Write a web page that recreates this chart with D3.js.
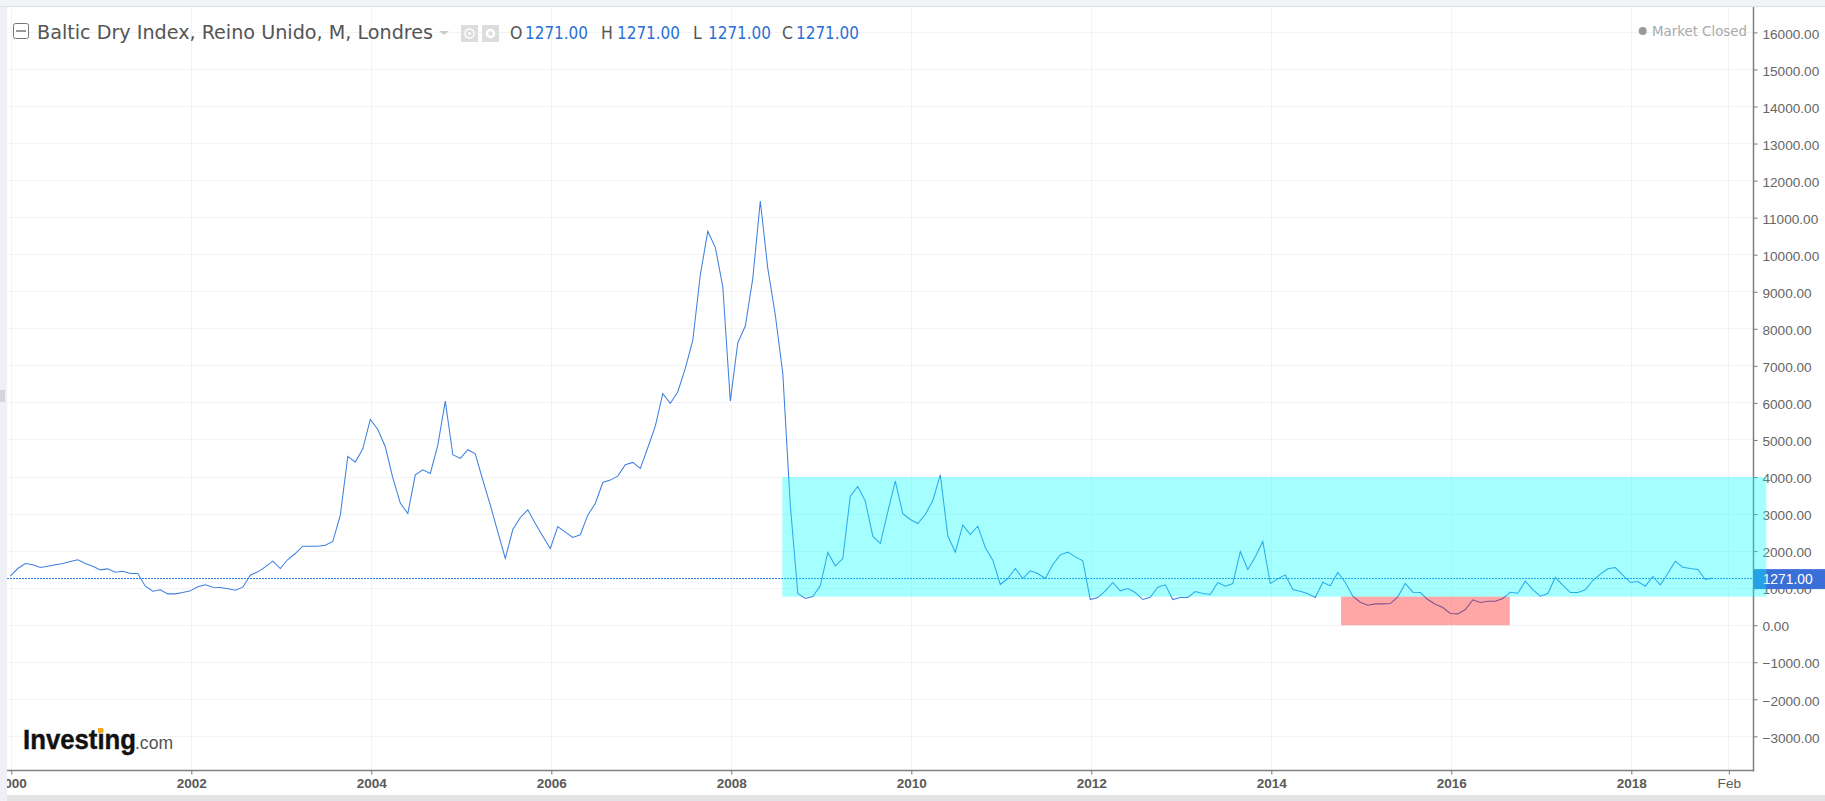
<!DOCTYPE html>
<html><head><meta charset="utf-8">
<script src="https://cdn.jsdelivr.net/npm/d3@7/dist/d3.min.js"></script>
<style>html,body{margin:0;padding:0;background:#fff;overflow:hidden}svg{display:block}text{font-family:"Liberation Sans",Arial,sans-serif}.cond{font-family:"DejaVu Sans",sans-serif;font-stretch:condensed}</style>
</head><body><svg id="c" width="1825" height="801"></svg>
<script>
// Monthly closes from Jan 2000
const startYear = 2000;
const closes = [
1323,1530,1665,1630,1557,1593,1630,1665,1719,1764,1665,1593,
1494,1520,1431,1458,1395,1395,1053,918,954,846,846,882,
927,1035,1089,1026,1017,981,945,1026,1350,1440,1575,1728,
1530,1773,1935,2133,2133,2133,2160,2259,2970,4555,4402,4762,
5554,5284,4816,3979,3295,3015,4060,4195,4096,4861,6049,4600,
4501,4735,4627,3916,3241,2521,1800,2583,2907,3115,2745,2403,
2070,2664,2511,2367,2440,2970,3285,3852,3916,4024,4330,4393,
4231,4789,5374,6247,5986,6302,6931,7696,9452,10631,10199,9136,
6049,7624,8074,9362,11450,9632,8372,6797,3241,856,720,774,
1062,1962,1602,1800,3484,3745,3349,2403,2205,3060,3889,3007,
2853,2745,2988,3367,4060,2413,1972,2700,2448,2673,2097,1755,
1098,1260,1530,1260,1467,1395,1260,1638,1899,1972,1845,1737,
693,747,927,1152,927,990,882,693,756,1026,1089,693,
747,747,909,855,828,1152,1053,1125,1989,1503,1845,2259,
1125,1251,1359,963,918,846,747,1161,1062,1422,1152,783,
621,540,576,576,585,765,1125,891,882,693,567,477,
315,306,423,684,612,648,648,720,891,864,1188,963,
783,855,1287,1080,882,882,954,1206,1377,1521,1557,1350,
1152,1179,1053,1314,1089,1395,1728,1566,1530,1503,1233,1271];
const yTicks = [16000,15000,14000,13000,12000,11000,10000,9000,8000,7000,6000,5000,4000,3000,2000,1000,0,-1000,-2000,-3000];
const xTickMonths = [0,24,48,72,96,120,144,168,192,216,229];
const xTickLabels = ["2000","2002","2004","2006","2008","2010","2012","2014","2016","2018","Feb"];
const lastPrice = 1271;
const ohlcKeys = ["O","H","L","C"];
const ohlcValues = [1271,1271,1271,1271];
const title = "Baltic Dry Index, Reino Unido, M, Londres";
const greenZone = {fromMonth:102.8, toMonth:234, hi:4000, lo:770};
const redZone = {fromMonth:177.3, toMonth:199.8, hi:770, lo:0};

const svg = d3.select("#c");
const L=7, R=1753.5, T=7, B=770.5;
const x = d3.scaleLinear().domain([0,229]).range([11.3,1728.8]);
const y = d3.scaleLinear().domain([0,16000]).range([625.2,32.4]);
const lineShift = -1;

svg.append("defs").append("clipPath").attr("id","cp").append("rect").attr("x",L).attr("y",0).attr("width",1825-L).attr("height",801);

// page chrome
svg.append("rect").attr("x",0).attr("y",0).attr("width",7).attr("height",801).attr("fill","#eef0f6");
svg.append("rect").attr("x",0).attr("y",0).attr("width",1825).attr("height",7).attr("fill","#f2f3f6");
svg.append("rect").attr("x",0).attr("y",6).attr("width",1825).attr("height",1).attr("fill","#dfe0e4");
svg.append("rect").attr("x",L).attr("y",795).attr("width",1825-L).attr("height",6).attr("fill","#e3e3e6");
svg.append("rect").attr("x",0).attr("y",390).attr("width",5).attr("height",12).attr("fill","#d5d6da");

// grid
const grid = svg.append("g").attr("shape-rendering","crispEdges").attr("stroke","#f3f3f5");
grid.selectAll("line.h").data(yTicks).join("line").attr("class","h").attr("x1",L).attr("x2",R).attr("y1",d=>y(d)).attr("y2",d=>y(d));
grid.selectAll("line.v").data(xTickMonths).join("line").attr("class","v").attr("x1",d=>x(d)).attr("x2",d=>x(d)).attr("y1",T).attr("y2",B);

// price line
const line = d3.line().x((d,i)=>x(i)+lineShift).y(d=>y(d));
svg.append("path").datum(closes).attr("d",line).attr("fill","none").attr("stroke","#3f80e0").attr("stroke-width",1.05);

// last price dotted
svg.append("line").attr("x1",L).attr("x2",R).attr("y1",y(lastPrice)+.4).attr("y2",y(lastPrice)+.4)
 .attr("stroke","#2b7de6").attr("stroke-width",1).attr("stroke-dasharray","2,1");

// axes
const yAxis = d3.axisRight(y).tickValues(yTicks).tickSize(4).tickPadding(5).tickFormat(d=>d3.format(".2f")(d));
const gy = svg.append("g").attr("transform",`translate(${R},0)`).call(yAxis);
gy.select(".domain").remove();
gy.selectAll("line").attr("stroke","#777");
gy.selectAll("text").attr("fill","#666").attr("font-size",13.6).attr("dy","0.42em").style("font-family",'"Liberation Sans",Arial,sans-serif');
svg.append("line").attr("x1",R).attr("x2",R).attr("y1",T).attr("y2",B+1).attr("stroke","#808080").attr("stroke-width",1.5);

const xAxis = d3.axisBottom(x).tickValues(xTickMonths).tickSize(4).tickPadding(4).tickFormat((d,i)=>xTickLabels[i]);
const gx = svg.append("g").attr("transform",`translate(0,${B})`).attr("clip-path","url(#cp)").call(xAxis);
gx.select(".domain").remove();
gx.selectAll("line").attr("stroke","#777");
gx.selectAll("text").attr("fill","#5a5a5a").attr("font-size",13.6).attr("font-weight",(d,i)=>xTickLabels[i]==="Feb"?"normal":"bold").style("font-family",'"Liberation Sans",Arial,sans-serif');
svg.append("line").attr("x1",L).attr("x2",R).attr("y1",B).attr("y2",B).attr("stroke","#808080").attr("stroke-width",1.5);

// price badge
const by = y(lastPrice)+1;
svg.append("rect").attr("x",R).attr("y",by-10).attr("width",1825-R).attr("height",20).attr("fill","#3b6fd8");
svg.append("text").attr("x",1762.7).attr("y",by+5).attr("fill","#fff").attr("font-size",13.8).text(d3.format(".2f")(lastPrice));

// zones
const zone=(z,c)=>svg.append("rect").attr("x",x(z.fromMonth)).attr("y",y(z.hi)).attr("width",x(z.toMonth)-x(z.fromMonth)).attr("height",y(z.lo)-y(z.hi)).attr("fill",c).attr("fill-opacity",.35);
zone(greenZone,"#00ffff");
zone(redZone,"#ff0000");

// header
const h = svg.append("g");
h.append("rect").attr("x",13.5).attr("y",23.5).attr("width",15).attr("height",15).attr("rx",2).attr("fill","#fff").attr("stroke","#777");
h.append("rect").attr("x",16).attr("y",30).attr("width",10).attr("height",2).attr("fill","#999");
h.append("text").attr("class","cond").attr("x",37).attr("y",39).attr("font-size",19).attr("fill","#555").attr("textLength",396).attr("lengthAdjust","spacingAndGlyphs").text(title);
h.append("path").attr("d",d3.line()([[439,31],[449,31],[444,35]])+"Z").attr("fill","#ccc");
h.append("rect").attr("x",461).attr("y",25).attr("width",17).attr("height",17).attr("fill","#ddd");
h.append("circle").attr("cx",469.5).attr("cy",33.5).attr("r",4.5).attr("fill","none").attr("stroke","#fff").attr("stroke-width",1.5);
h.append("circle").attr("cx",469.5).attr("cy",33.5).attr("r",1.5).attr("fill","#fff");
h.append("rect").attr("x",482).attr("y",25).attr("width",17).attr("height",17).attr("fill","#ddd");
h.append("circle").attr("cx",490.5).attr("cy",33.5).attr("r",3.5).attr("fill","none").attr("stroke","#fff").attr("stroke-width",2.5);
const keyX=[510,601,693,782], valX=[525,617,708,796];
h.selectAll("text.k").data(ohlcKeys).join("text").attr("class","k cond").attr("x",(d,i)=>keyX[i]).attr("y",39).attr("font-size",17.5).attr("fill","#555").text(d=>d);
h.selectAll("text.v").data(ohlcValues).join("text").attr("class","v cond").attr("x",(d,i)=>valX[i]).attr("y",39).attr("font-size",17.5).attr("fill","#2a6fd8").attr("textLength",63).attr("lengthAdjust","spacingAndGlyphs").text(d=>d3.format(".2f")(d));

// market status
svg.append("circle").attr("cx",1642.7).attr("cy",31).attr("r",4).attr("fill","#999");
svg.append("text").attr("class","cond").attr("x",1652).attr("y",36).attr("font-size",14.5).attr("fill","#aaa").attr("textLength",95).attr("lengthAdjust","spacingAndGlyphs").text("Market Closed");

// logo
svg.append("text").attr("x",23).attr("y",749).attr("font-size",27.5).attr("font-weight","bold").attr("fill","#111").attr("stroke","#111").attr("stroke-width",.4).attr("textLength",113).attr("lengthAdjust","spacingAndGlyphs").text("Investing");
svg.append("text").attr("x",135).attr("y",749).attr("font-size",19).attr("fill","#555").attr("textLength",38).attr("lengthAdjust","spacingAndGlyphs").text(".com");
svg.append("rect").attr("x",98).attr("y",728).attr("width",5).attr("height",5).attr("fill","#f5a623");
</script></body></html>
